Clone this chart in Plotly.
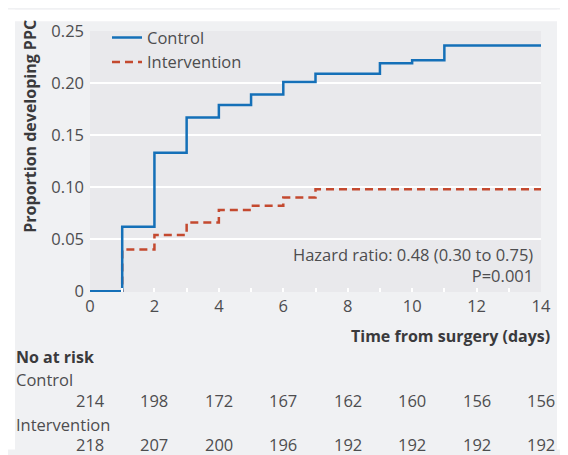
import plotly.graph_objects as go

# ---- data ----
control_days = [0, 1, 2, 3, 4, 5, 6, 7, 9, 10, 11, 14]
control_prop = [0, 0.062, 0.133, 0.167, 0.179, 0.189, 0.201, 0.209, 0.219, 0.222, 0.236, 0.236]
interv_days = [0, 1, 2, 3, 4, 5, 6, 7, 14]
interv_prop = [0, 0.040, 0.054, 0.066, 0.078, 0.082, 0.090, 0.098, 0.1015]
risk_days = [0, 2, 4, 6, 8, 10, 12, 14]
risk_control = [214, 198, 172, 167, 162, 160, 156, 156]
risk_interv = [218, 207, 200, 196, 192, 192, 192, 192]
y_ticks = [0, 0.05, 0.10, 0.15, 0.20, 0.25]
y_ticktext = ["0", "0.05", "0.10", "0.15", "0.20", "0.25"]

BLUE = "#1570b8"
RED = "#c4492f"
TXT = "#4d4d4f"
DARK = "#3a3a3c"
PANEL = "#f0f1f3"
PLOTBG = "#e9e9ec"
FONT = "Open Sans"
FS = 16.5      # regular text
FSB = 16       # bold titles

# the page body adds an 8px margin, so the figure is drawn 8px smaller
OFF = 8
W, H = 568 - OFF, 455 - OFF
L, R, T, B = 90 - OFF, 568 - 541, 22 - OFF, 455 - 292
pw, ph = W - L - R, H - T - B


def px_x(px):
    return (px - OFF - L) / pw


def px_y(py):
    return (H - B - (py - OFF)) / ph


fig = go.Figure()
fig.add_trace(go.Scatter(x=interv_days, y=interv_prop, mode="lines", name="Intervention",
                         line=dict(color=RED, width=2.5, dash="8px,5px", shape="hv")))
fig.add_trace(go.Scatter(x=control_days, y=control_prop, mode="lines", name="Control",
                         line=dict(color=BLUE, width=2.5, shape="hv")))

# white strips outside the grey panel (only over empty margins)
for x0, x1, y0, y1 in [(0, 15, 0, 455), (0, 568, 0, 12), (557, 568, 0, 455)]:
    fig.add_shape(type="rect", xref="paper", yref="paper", x0=px_x(x0), x1=px_x(x1),
                  y0=px_y(y1), y1=px_y(y0), fillcolor="white", line=dict(width=0), layer="above")


def note(text, x, y, xanchor, size, color, xref="paper", **kw):
    return dict(text=text, xref=xref, yref="paper", x=x, y=y, xanchor=xanchor, yanchor="middle",
                showarrow=False, borderpad=0, font=dict(size=size, color=color, family=FONT), **kw)


ann = []
ann.append(note("<b>Proportion developing PPC</b>", px_x(30), px_y(121), "center", FSB, DARK,
                textangle=-90))
ann.append(note("<b>Time from surgery (days)</b>", px_x(551), px_y(338), "right", FSB, DARK))
ann.append(note("<b>No at risk</b>", px_x(15), px_y(359), "left", FSB, DARK, height=18))
ann.append(note("Control", px_x(15), px_y(382), "left", FS, TXT, height=18))
ann.append(note("Intervention", px_x(15), px_y(429), "left", FS, TXT, height=18))
for d, c, i in zip(risk_days, risk_control, risk_interv):
    ann.append(note(str(c), d, px_y(404), "center", FS, TXT, xref="x", height=18))
    ann.append(note(str(i), d, px_y(449), "center", FS, TXT, xref="x", height=18))
ann.append(note("Hazard ratio: 0.48 (0.30 to 0.75)<br>P=0.001", px_x(534), px_y(264), "right",
                FS, TXT, align="right"))

fig.update_layout(
    width=W, height=H,
    margin=dict(l=L, r=R, t=T, b=B),
    paper_bgcolor=PANEL, plot_bgcolor=PLOTBG,
    font=dict(family=FONT, size=FS, color=TXT),
    showlegend=True,
    legend=dict(x=px_x(107), y=px_y(11), xanchor="left", yanchor="top", bgcolor="rgba(0,0,0,0)",
                traceorder="reversed", font=dict(size=FS, color=TXT), tracegroupgap=0,
                borderwidth=0),
    annotations=ann,
)
fig.update_xaxes(range=[0, 14], tickvals=risk_days, showgrid=False, zeroline=False,
                 ticks="inside", ticklen=4, tickcolor="white", tickwidth=1.5,
                 minor=dict(dtick=1, ticks="inside", ticklen=4, tickcolor="white", tickwidth=1.5),
                 tickfont=dict(size=FS, color=TXT), showline=False, ticklabelstandoff=2)
fig.update_yaxes(range=[-0.0008, 0.25], tickvals=y_ticks, ticktext=y_ticktext, showgrid=True,
                 gridcolor="white", gridwidth=1.5, zeroline=False, ticks="",
                 tickfont=dict(size=FS, color=TXT), showline=False, ticklabelstandoff=5)

fig.write_html("out.html")
